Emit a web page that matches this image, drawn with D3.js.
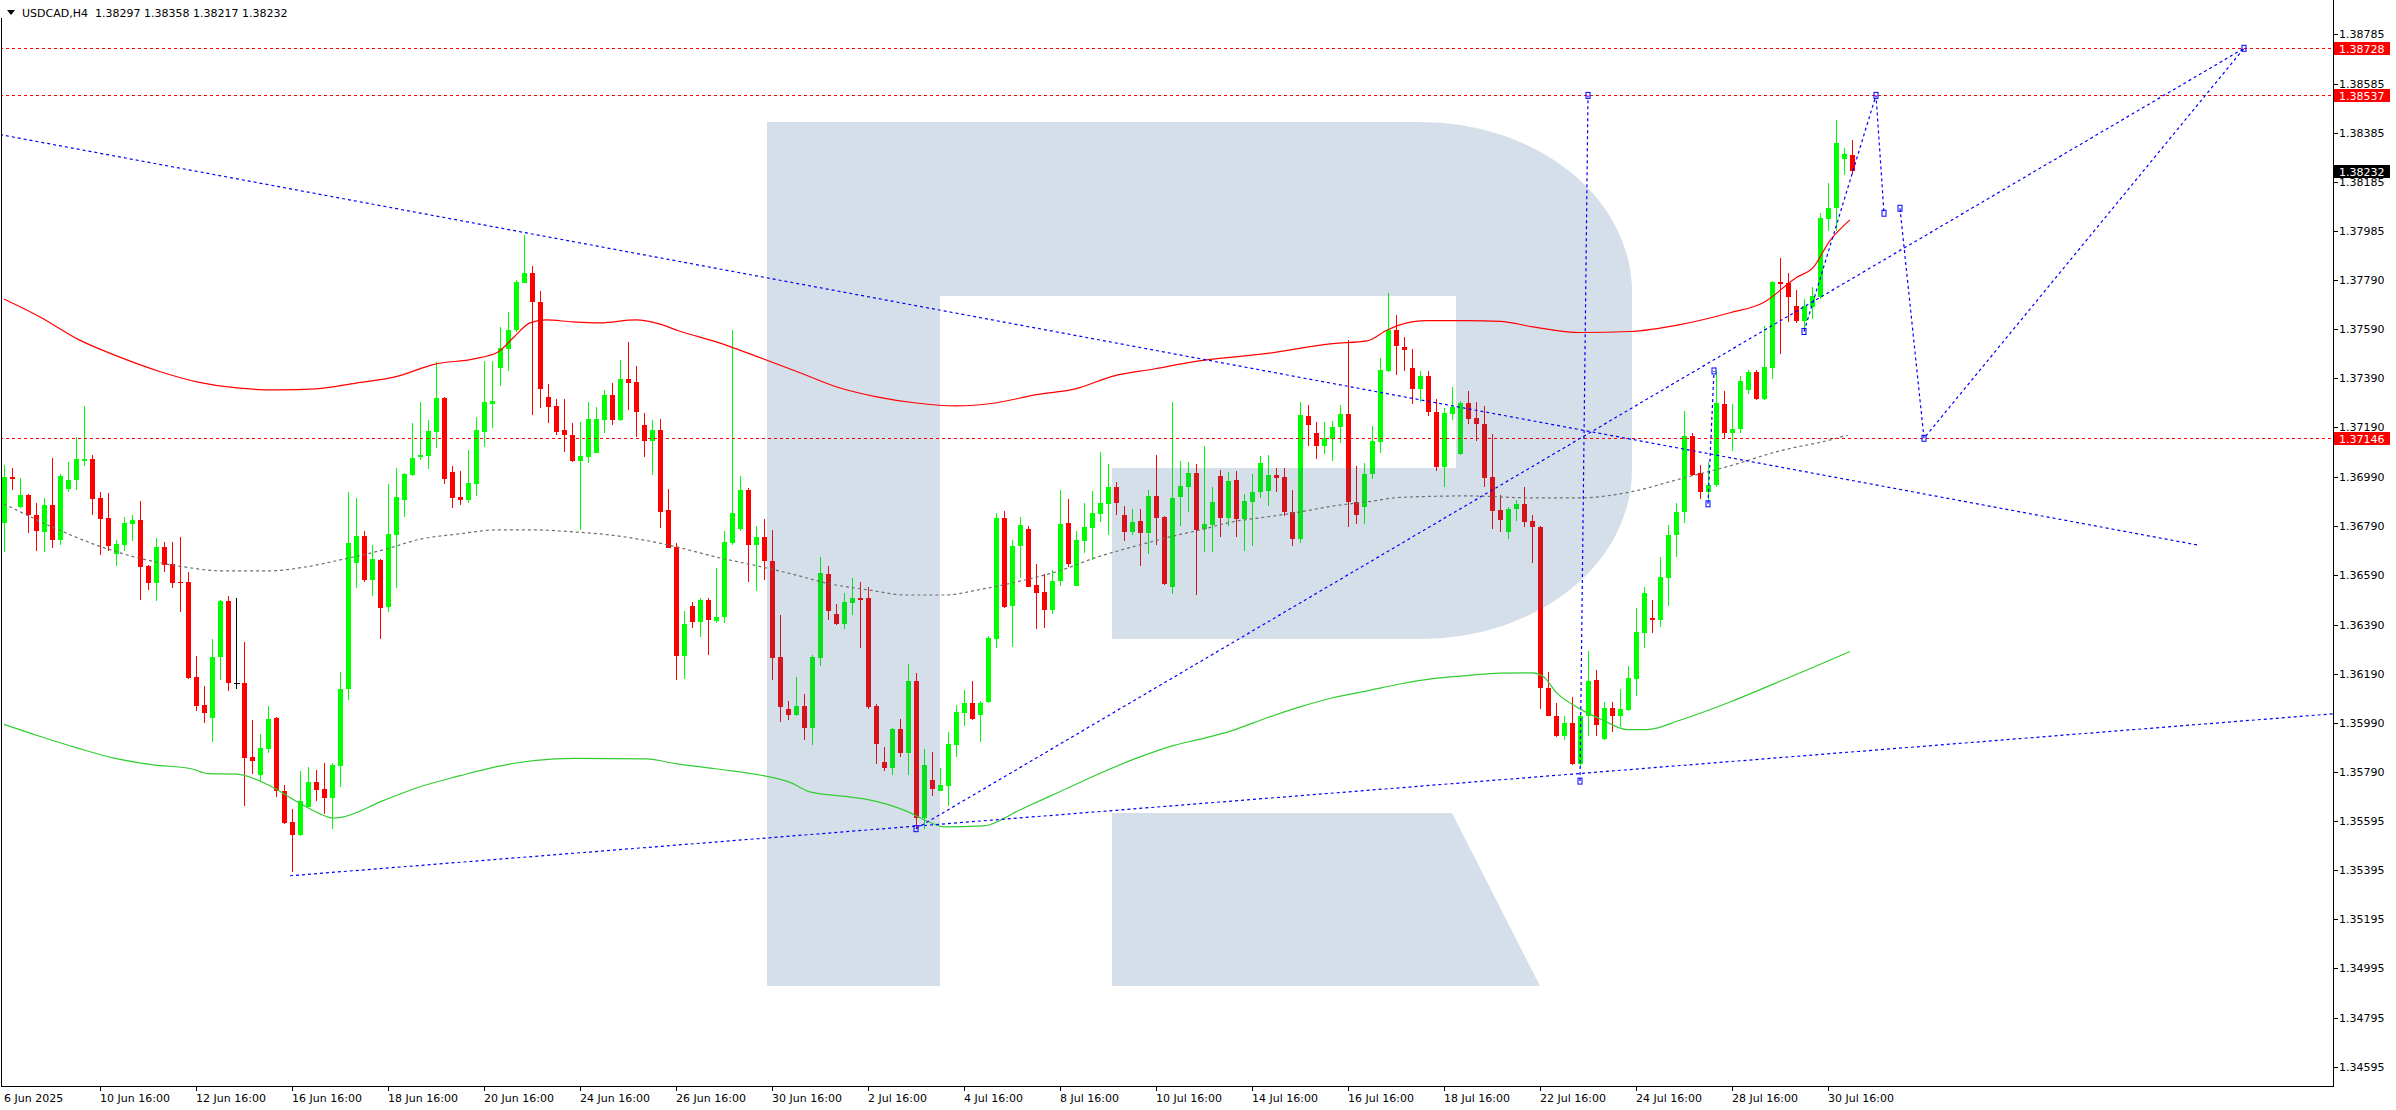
<!DOCTYPE html>
<html><head><meta charset="utf-8">
<script src="https://cdn.jsdelivr.net/npm/d3@7"></script>
<style>html,body{margin:0;padding:0;background:#fff;overflow:hidden}svg{display:block;font-family:"DejaVu Sans",sans-serif}</style>
</head><body>
<svg id="chart" width="2396" height="1110"></svg>
<script>
// ---------------- DATA ----------------
const symbol = "USDCAD,H4";
const headerValues = ["1.38297", "1.38358", "1.38217", "1.38232"];

const opens = [1.36804,1.36988,1.36868,1.36916,1.36835,1.36767,1.36875,1.36734,1.36941,1.36975,
1.37055,1.37062,1.36904,1.36823,1.36676,1.36714,1.36800,1.36813,1.36628,1.36557,
1.36703,1.36636,1.36561,1.36561,1.36178,1.36064,1.36013,1.36259,1.36484,1.36153,
1.36153,1.35854,1.35778,1.35887,1.36011,1.35716,1.35590,1.35535,1.35650,1.35751,
1.35721,1.35687,1.35818,1.36127,1.36641,1.36750,1.36572,1.36652,1.36461,1.36755,
1.36897,1.36996,1.37069,1.37075,1.37173,1.37310,1.37009,1.36908,1.36896,1.36962,
1.37173,1.37285,1.37432,1.37510,1.37585,1.37777,1.37817,1.37700,1.37314,1.37277,
1.37180,1.37159,1.37055,1.37071,1.37088,1.37220,1.37322,1.37220,1.37387,1.37374,
1.37200,1.37136,1.37180,1.36855,1.36705,1.36263,1.36466,1.36399,1.36490,1.36406,
1.36419,1.36722,1.36779,1.36935,1.36714,1.36746,1.36650,1.36259,1.36049,1.36024,
1.36058,1.35972,1.36255,1.36594,1.36433,1.36393,1.36476,1.36498,1.36498,1.36060,
1.35833,1.35809,1.35965,1.35871,1.36162,1.35605,1.35758,1.35716,1.35736,1.35902,
1.36032,1.36073,1.36022,1.36074,1.36330,1.36821,1.36466,1.36708,1.36779,1.36551,
1.36523,1.36448,1.36565,1.36803,1.36547,1.36729,1.36783,1.36840,1.36881,1.36947,
1.36835,1.36767,1.36811,1.36763,1.36911,1.36826,1.36544,1.36907,1.36949,1.37003,
1.36776,1.36794,1.36993,1.36823,1.36975,1.36820,1.36889,1.36928,1.36932,1.36997,
1.36987,1.36845,1.36736,1.37237,1.37167,1.37116,1.37142,1.37192,1.37243,1.36886,
1.36867,1.37000,1.37132,1.37420,1.37584,1.37516,1.37432,1.37345,1.37399,1.37251,
1.37030,1.37246,1.37084,1.37290,1.37229,1.37204,1.36987,1.36855,1.36766,1.36857,
1.36878,1.36809,1.36786,1.36134,1.36020,1.35936,1.35992,1.35825,1.36020,1.36164,
1.35927,1.36052,1.36020,1.36044,1.36169,1.36355,1.36415,1.36407,1.36579,1.36752,
1.36845,1.37156,1.37003,1.36927,1.36955,1.37283,1.37166,1.37184,1.37342,1.37413,
1.37306,1.37432,1.37780,1.37774,1.37682,1.37622,1.37678,1.37720,1.38037,1.38082,
1.38279,1.38297];

const highs = [1.37038,1.37025,1.36985,1.36918,1.36882,1.36904,1.37066,1.37000,1.37049,1.37151,
1.37277,1.37080,1.36928,1.36924,1.36733,1.36827,1.36835,1.36892,1.36632,1.36742,
1.36725,1.36726,1.36746,1.36604,1.36263,1.36141,1.36332,1.36491,1.36508,1.36498,
1.36320,1.36003,1.35946,1.36058,1.36015,1.35740,1.35640,1.35797,1.35811,1.35800,
1.35828,1.35828,1.36198,1.36928,1.36904,1.36770,1.36713,1.36655,1.36959,1.37026,
1.37003,1.37208,1.37294,1.37220,1.37454,1.37312,1.37035,1.37013,1.37099,1.37232,
1.37460,1.37458,1.37599,1.37658,1.37788,1.37972,1.37845,1.37744,1.37368,1.37306,
1.37306,1.37208,1.37213,1.37293,1.37274,1.37342,1.37372,1.37464,1.37537,1.37439,
1.37247,1.37220,1.37224,1.36940,1.36721,1.36444,1.36480,1.36498,1.36498,1.36620,
1.36770,1.37585,1.36993,1.36945,1.36790,1.36819,1.36774,1.36430,1.36081,1.36178,
1.36110,1.36267,1.36665,1.36629,1.36473,1.36518,1.36579,1.36562,1.36544,1.36067,
1.35892,1.35971,1.36007,1.36230,1.36195,1.35886,1.35875,1.35809,1.35956,1.36063,
1.36124,1.36162,1.36081,1.36345,1.36843,1.36850,1.36733,1.36827,1.36790,1.36636,
1.36594,1.36611,1.36935,1.36900,1.36770,1.36885,1.36932,1.37091,1.37042,1.36968,
1.36871,1.36857,1.36860,1.36938,1.37077,1.36829,1.37294,1.37052,1.37049,1.37042,
1.37113,1.36949,1.37019,1.37009,1.37012,1.36920,1.37001,1.37074,1.37078,1.37026,
1.37026,1.36936,1.37293,1.37280,1.37212,1.37212,1.37216,1.37281,1.37543,1.37034,
1.37045,1.37196,1.37472,1.37736,1.37645,1.37555,1.37508,1.37417,1.37417,1.37304,
1.37269,1.37352,1.37297,1.37338,1.37294,1.37277,1.37164,1.36914,1.36867,1.36896,
1.36947,1.36835,1.36790,1.36198,1.36070,1.36020,1.36095,1.36029,1.36281,1.36206,
1.36076,1.36076,1.36128,1.36220,1.36458,1.36542,1.36490,1.36663,1.36793,1.36882,
1.37255,1.37166,1.37039,1.37050,1.37417,1.37337,1.37286,1.37398,1.37422,1.37422,
1.37600,1.37782,1.37877,1.37817,1.37748,1.37711,1.37761,1.38060,1.38180,1.38436,
1.38324,1.38358];

const lows = [1.36686,1.36935,1.36862,1.36760,1.36690,1.36686,1.36699,1.36714,1.36929,1.36938,
1.37035,1.36833,1.36671,1.36690,1.36629,1.36690,1.36729,1.36491,1.36532,1.36487,
1.36605,1.36540,1.36440,1.36171,1.36041,1.35989,1.35914,1.36164,1.36120,1.36127,
1.35652,1.35783,1.35757,1.35871,1.35690,1.35581,1.35388,1.35531,1.35648,1.35676,
1.35622,1.35559,1.35733,1.36086,1.36537,1.36562,1.36504,1.36333,1.36440,1.36540,
1.36828,1.36992,1.37059,1.37020,1.37106,1.36959,1.36865,1.36875,1.36885,1.36912,
1.37112,1.37187,1.37359,1.37419,1.37577,1.37775,1.37242,1.37268,1.37209,1.37159,
1.37089,1.37051,1.36774,1.37045,1.37085,1.37169,1.37200,1.37216,1.37261,1.37153,
1.37071,1.36997,1.36781,1.36700,1.36167,1.36171,1.36377,1.36338,1.36267,1.36397,
1.36397,1.36714,1.36770,1.36561,1.36527,1.36572,1.36167,1.35993,1.36003,1.36018,
1.35922,1.35900,1.36220,1.36409,1.36387,1.36373,1.36430,1.36295,1.36046,1.35825,
1.35794,1.35780,1.35854,1.35778,1.35565,1.35562,1.35693,1.35714,1.35655,1.35851,
1.35979,1.36001,1.35915,1.36070,1.36295,1.36458,1.36299,1.36579,1.36541,1.36373,
1.36377,1.36433,1.36547,1.36622,1.36545,1.36682,1.36651,1.36807,1.36755,1.36835,
1.36729,1.36755,1.36629,1.36675,1.36712,1.36551,1.36515,1.36790,1.36845,1.36512,
1.36686,1.36686,1.36744,1.36790,1.36744,1.36690,1.36708,1.36903,1.36870,1.36928,
1.36831,1.36708,1.36719,1.37113,1.37062,1.37084,1.37055,1.37125,1.36787,1.36797,
1.36797,1.36979,1.37088,1.37413,1.37403,1.37420,1.37284,1.37294,1.37237,1.37012,
1.36947,1.37222,1.37080,1.37204,1.37135,1.36947,1.36777,1.36766,1.36739,1.36812,
1.36787,1.36638,1.36046,1.36018,1.35932,1.35923,1.35821,1.35818,1.35940,1.35936,
1.35923,1.35955,1.35974,1.36039,1.36101,1.36294,1.36355,1.36379,1.36467,1.36663,
1.36803,1.36994,1.36901,1.36896,1.36948,1.37143,1.37096,1.37166,1.37324,1.37300,
1.37303,1.37385,1.37488,1.37618,1.37613,1.37585,1.37628,1.37709,1.37985,1.37985,
1.38212,1.38217];

const closes = [1.36989,1.36982,1.36916,1.36833,1.36770,1.36875,1.36734,1.36993,1.36975,1.37062,
1.37060,1.36901,1.36820,1.36710,1.36717,1.36803,1.36813,1.36622,1.36557,1.36705,
1.36633,1.36557,1.36557,1.36174,1.36060,1.36032,1.36259,1.36484,1.36151,1.36153,
1.35847,1.35838,1.35888,1.36007,1.35715,1.35586,1.35536,1.35675,1.35751,1.35717,
1.35687,1.35821,1.36130,1.36722,1.36750,1.36571,1.36656,1.36459,1.36757,1.36908,
1.36999,1.37066,1.37079,1.37174,1.37310,1.36981,1.36905,1.36897,1.36963,1.37180,
1.37293,1.37296,1.37512,1.37585,1.37781,1.37817,1.37700,1.37346,1.37274,1.37173,
1.37158,1.37055,1.37074,1.37224,1.37224,1.37322,1.37220,1.37387,1.37372,1.37254,
1.37136,1.37180,1.36848,1.36702,1.36263,1.36392,1.36399,1.36490,1.36409,1.36420,
1.36726,1.36843,1.36935,1.36714,1.36746,1.36648,1.36255,1.36057,1.36024,1.36058,
1.35972,1.36259,1.36600,1.36444,1.36393,1.36480,1.36497,1.36491,1.36057,1.35904,
1.35809,1.35965,1.35871,1.36162,1.35605,1.35821,1.35721,1.35740,1.35906,1.36036,
1.36070,1.36007,1.36073,1.36335,1.36821,1.36463,1.36708,1.36793,1.36544,1.36520,
1.36448,1.36565,1.36800,1.36636,1.36734,1.36786,1.36843,1.36882,1.36947,1.36885,
1.36764,1.36807,1.36760,1.36911,1.36824,1.36555,1.36902,1.36952,1.37003,1.36774,
1.36797,1.36888,1.36823,1.36973,1.36820,1.36892,1.36928,1.37045,1.36997,1.36983,
1.36845,1.36736,1.37241,1.37200,1.37113,1.37146,1.37192,1.37243,1.36886,1.36833,
1.37000,1.37135,1.37422,1.37584,1.37519,1.37504,1.37345,1.37399,1.37251,1.37030,
1.37248,1.37273,1.37290,1.37226,1.37204,1.36983,1.36852,1.36816,1.36859,1.36878,
1.36807,1.36784,1.36131,1.36020,1.35940,1.35992,1.35825,1.36020,1.36160,1.35983,
1.36052,1.36020,1.36048,1.36175,1.36361,1.36519,1.36407,1.36584,1.36752,1.36845,
1.37156,1.36998,1.36927,1.36955,1.37290,1.37166,1.37184,1.37378,1.37413,1.37306,
1.37435,1.37780,1.37771,1.37718,1.37622,1.37682,1.37724,1.38041,1.38082,1.38342,
1.38301,1.38232];

const xTickBars = [0,12,24,36,48,60,72,84,96,108,120,132,144,156,168,180,192,204,216,228];
const xTickLabels = ["6 Jun 2025","10 Jun 16:00","12 Jun 16:00","16 Jun 16:00","18 Jun 16:00",
"20 Jun 16:00","24 Jun 16:00","26 Jun 16:00","30 Jun 16:00","2 Jul 16:00","4 Jul 16:00",
"8 Jul 16:00","10 Jul 16:00","14 Jul 16:00","16 Jul 16:00","18 Jul 16:00","22 Jul 16:00",
"24 Jul 16:00","28 Jul 16:00","30 Jul 16:00"];

const yTickValues = [1.38785,1.38585,1.38385,1.38185,1.37985,1.37790,1.37590,1.37390,1.37190,
1.36990,1.36790,1.36590,1.36390,1.36190,1.35990,1.35790,1.35595,1.35395,1.35195,1.34995,
1.34795,1.34595];

const levelLines = [1.38728, 1.38537, 1.37146];
const lastPrice = 1.38232;

// moving averages: [bar index, price]
const maRed = [[0,1.37711],[4.5,1.37638],[9.4,1.37545],[14.4,1.37476],[19.25,1.37419],[24.25,1.37374],
[29.1,1.37350],[34.1,1.37342],[39,1.37346],[44,1.37370],[48.9,1.37395],[53.9,1.37447],[58.75,1.37468],
[61.75,1.37496],[63.75,1.37557],[65.75,1.37614],[67.75,1.37626],[71.1,1.37618],[74.5,1.37614],
[79,1.37626],[81.9,1.37610],[84.4,1.37581],[89.4,1.37533],[94.25,1.37476],[99.25,1.37415],
[104.1,1.37354],[109.1,1.37314],[114,1.37289],[119,1.37277],[123.9,1.37289],[128.9,1.37322],
[133.9,1.37346],[138.75,1.37399],[143.75,1.37427],[148.6,1.37456],[157.9,1.37490],[166.1,1.37530],
[170.4,1.37541],[172.9,1.37585],[174.5,1.37606],[177.9,1.37623],[182.9,1.37623],[187,1.37620],
[191.1,1.37598],[197,1.37575],[203.25,1.37579],[209.5,1.37607],[215.75,1.37655],[219.9,1.37696],
[224.1,1.37799],[226.1,1.37837],[228.25,1.37948],[230.75,1.38032]];

const maGreen = [[0,1.35985],[4.25,1.35939],[9.1,1.35890],[13.9,1.35847],[18.6,1.35821],[23.4,1.35805],
[25.6,1.35785],[29.1,1.35783],[33,1.35740],[36.75,1.35669],[39.25,1.35626],[41.1,1.35605],[42.1,1.35608],
[47.4,1.35676],[52.1,1.35733],[56.9,1.35776],[61.6,1.35814],[66.5,1.35839],[71.25,1.35847],
[80.25,1.35845],[84.1,1.35825],[88.9,1.35805],[95.1,1.35776],[98.4,1.35748],[100.75,1.35711],
[105.6,1.35691],[108,1.35680],[112.75,1.35634],[115.6,1.35590],[117.5,1.35569],[122.4,1.35573],
[127.1,1.35640],[131.9,1.35711],[136.75,1.35783],[141.5,1.35847],[146.25,1.35900],[149.5,1.35925],
[153.6,1.35961],[157.9,1.36012],[162,1.36056],[166.1,1.36093],[170.4,1.36121],[174.5,1.36149],
[178.6,1.36171],[182.9,1.36183],[187,1.36193],[191.1,1.36194],[192.4,1.36179],[194.1,1.36113],
[197,1.36048],[199.9,1.36002],[202.9,1.35964],[205.4,1.35964],[209.5,1.36002],[215.75,1.36076],
[222,1.36160],[226.1,1.36216],[230.75,1.36281]];

const maGrey = [[0,1.36880],[6.6,1.36778],[11.5,1.36713],[16.25,1.36665],[22.5,1.36624],[27.25,1.36608],
[33,1.36608],[37.75,1.36624],[42.5,1.36656],[47.4,1.36693],[52.1,1.36737],[56.9,1.36758],[61.6,1.36774],
[66.5,1.36774],[71.25,1.36766],[74.5,1.36758],[79.25,1.36737],[84.1,1.36705],[88.9,1.36665],
[93.6,1.36632],[98.4,1.36596],[103.25,1.36555],[108,1.36531],[112.75,1.36510],[117.5,1.36510],
[122.4,1.36535],[127.1,1.36567],[131.9,1.36608],[136.75,1.36665],[141.5,1.36709],[146.25,1.36750],
[149.5,1.36774],[153.6,1.36807],[157.9,1.36827],[162,1.36847],[166.1,1.36871],[170.4,1.36888],
[174.5,1.36906],[182.9,1.36912],[191.1,1.36904],[197,1.36904],[203.25,1.36928],[209.5,1.36981],
[215.75,1.37034],[222,1.37095],[228.25,1.37139],[230.5,1.37159]];

// drawn objects: [[bar, price], [bar, price]]
const trendLines = [
  [[-0.5, 1.38378], [274.5, 1.36711]],
  [[35.75, 1.35371], [291.1, 1.36028]],
  [[114, 1.35562], [280, 1.38728]],
  [[197, 1.35755], [198, 1.38537]],
  [[213, 1.36880], [213.75, 1.37419]]
];
const projectionA = [[225, 1.37579], [234, 1.38537], [235, 1.38059]];
const projectionB = [[237, 1.38079], [240, 1.37146], [280, 1.38728]];

// ---------------- CHART ----------------
const svg = d3.select("#chart");
const plotRight = 2333, plotBottom = 1086;
const x = d3.scaleLinear().domain([0, 291]).range([4, 2332]);
const y = d3.scaleLinear().domain([1.34518, 1.38924]).range([1086, 0]);

svg.append("rect").attr("width", 2396).attr("height", 1110).attr("fill", "#fff");
svg.append("defs").append("clipPath").attr("id", "plot")
  .append("rect").attr("x", 1).attr("y", 0).attr("width", plotRight - 1).attr("height", plotBottom);

const plot = svg.append("g").attr("clip-path", "url(#plot)");

// candles
const bars = d3.range(opens.length).map(i => ({i, o: opens[i], h: highs[i], l: lows[i], c: closes[i]}));
const colorOf = d => d.c > d.o ? "#00ff00" : (d.c < d.o ? "#ff0000" : "#000000");
const cg = plot.append("g").attr("shape-rendering", "crispEdges");
cg.selectAll("rect.wick").data(bars).join("rect").attr("class", "wick")
  .attr("x", d => Math.round(x(d.i)))
  .attr("y", d => Math.round(y(Math.max(d.h, d.o, d.c))))
  .attr("width", 1)
  .attr("height", d => Math.max(1, Math.round(y(Math.min(d.l, d.o, d.c))) - Math.round(y(Math.max(d.h, d.o, d.c)))))
  .attr("fill", colorOf);
cg.selectAll("rect.body").data(bars).join("rect").attr("class", "body")
  .attr("x", d => Math.round(x(d.i)) - 2)
  .attr("y", d => Math.round(y(Math.max(d.o, d.c))))
  .attr("width", d => d.o === d.c ? 6 : 5)
  .attr("height", d => Math.max(1, Math.round(y(Math.min(d.o, d.c))) - Math.round(y(Math.max(d.o, d.c)))))
  .attr("fill", colorOf);

// watermark R (semi-transparent overlay)
const wm = "M767,122 H1421 A211,170 0 0 1 1632,292 V470 A211,169 0 0 1 1421,639 H1112 V468 H1456 V296 H940 V986 H767 Z " +
           "M1112,813 H1452 L1540,986 H1112 Z";
plot.append("path").attr("d", wm).attr("fill", "rgb(49,98,147)").attr("fill-opacity", 0.204);

// moving averages
const maLine = d3.line().x(d => x(d[0])).y(d => y(d[1])).curve(d3.curveMonotoneX);
plot.append("path").attr("d", maLine(maRed)).attr("fill", "none").attr("stroke", "#ff0000").attr("stroke-width", 1.2);
plot.append("path").attr("d", maLine(maGreen)).attr("fill", "none").attr("stroke", "#32cd32").attr("stroke-width", 1.2);
plot.append("path").attr("d", maLine(maGrey)).attr("fill", "none").attr("stroke", "#6e6e6e").attr("stroke-width", 1.2).attr("stroke-dasharray", "3,3");

// horizontal levels
plot.selectAll("line.level").data(levelLines).join("line").attr("class", "level")
  .attr("x1", 0).attr("x2", plotRight).attr("y1", d => Math.round(y(d)) + 0.5).attr("y2", d => Math.round(y(d)) + 0.5)
  .attr("stroke", "#ff0000").attr("stroke-width", 1).attr("stroke-dasharray", "3,3");

// blue drawn objects
const objLine = d3.line().x(d => x(d[0])).y(d => y(d[1]));
plot.selectAll("path.trend").data(trendLines).join("path").attr("class", "trend")
  .attr("d", objLine).attr("fill", "none").attr("stroke", "#0000ff").attr("stroke-width", 1.2).attr("stroke-dasharray", "3,3");
plot.selectAll("path.proj").data([projectionA, projectionB]).join("path").attr("class", "proj")
  .attr("d", objLine).attr("fill", "none").attr("stroke", "#0000ff").attr("stroke-width", 1.2).attr("stroke-dasharray", "3,3");
const anchors = [trendLines[2][0], trendLines[3][0], trendLines[3][1], trendLines[4][0], trendLines[4][1],
  ...projectionA, ...projectionB];
plot.selectAll("rect.anchor").data(anchors).join("rect").attr("class", "anchor")
  .attr("x", d => x(d[0]) - 2).attr("y", d => y(d[1]) - 3).attr("width", 4).attr("height", 6)
  .attr("fill", "none").attr("stroke", "#0000ff").attr("stroke-width", 1);

// frame
svg.append("line").attr("x1", 1.5).attr("x2", 1.5).attr("y1", 18).attr("y2", plotBottom).attr("stroke", "#000");
svg.append("line").attr("x1", plotRight + 0.5).attr("x2", plotRight + 0.5).attr("y1", 0).attr("y2", plotBottom + 1).attr("stroke", "#000");
svg.append("line").attr("x1", 1).attr("x2", plotRight + 1).attr("y1", plotBottom + 0.5).attr("y2", plotBottom + 0.5).attr("stroke", "#000");

// y axis
const ya = svg.append("g").attr("font-size", 11).attr("fill", "#000");
ya.selectAll("line").data(yTickValues).join("line")
  .attr("x1", plotRight).attr("x2", plotRight + 5)
  .attr("y1", d => Math.round(y(d)) + 0.5).attr("y2", d => Math.round(y(d)) + 0.5).attr("stroke", "#000");
ya.selectAll("text").data(yTickValues).join("text")
  .attr("x", plotRight + 6).attr("y", d => y(d) + 4).text(d => d.toFixed(5));

// price label boxes
const boxes = levelLines.map(v => ({v, bg: "#ff0000"})).concat([{v: lastPrice, bg: "#000000"}]);
const bx = svg.append("g");
bx.selectAll("rect").data(boxes).join("rect")
  .attr("x", plotRight + 1).attr("y", d => Math.round(y(d.v)) - 6).attr("width", 56).attr("height", 13)
  .attr("fill", d => d.bg);
bx.selectAll("text").data(boxes).join("text")
  .attr("x", plotRight + 6).attr("y", d => Math.round(y(d.v)) + 4.5).attr("font-size", 11).attr("fill", "#fff")
  .text(d => d.v.toFixed(5));

// x axis
const xa = svg.append("g").attr("font-size", 11).attr("fill", "#000");
xa.selectAll("line").data(xTickBars.slice(1)).join("line")
  .attr("x1", d => Math.round(x(d)) + 0.5).attr("x2", d => Math.round(x(d)) + 0.5)
  .attr("y1", plotBottom).attr("y2", plotBottom + 5).attr("stroke", "#000");
xa.selectAll("text").data(xTickBars).join("text")
  .attr("x", d => Math.round(x(d))).attr("y", plotBottom + 16)
  .text((d, k) => xTickLabels[k]);

// header
svg.append("path").attr("d", "M7,10 L15,10 L11,15 Z").attr("fill", "#000");
svg.append("text").attr("x", 22).attr("y", 17).attr("font-size", 11).attr("fill", "#000")
  .text(symbol + "  " + headerValues.join(" ")).attr("xml:space", "preserve").style("white-space", "pre");
</script>
</body></html>
